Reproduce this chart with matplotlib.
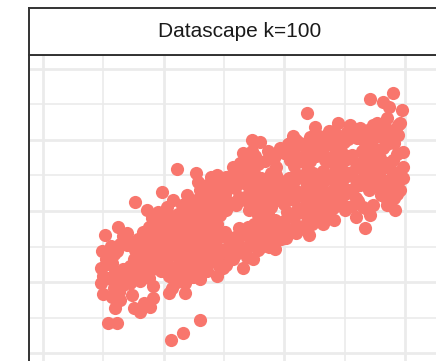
import matplotlib
matplotlib.use("Agg")
import matplotlib.pyplot as plt
import numpy as np
from matplotlib.ticker import MultipleLocator

plt.rcParams['font.family'] = ['Liberation Sans', 'DejaVu Sans']

panel_title = "Datascape k=100"
point_color = "#F8766D"

# observations, grouped by region of the cloud (left tail, middle, right / upper arm, dense core)
left_x = [
    5.1, 4.9, 5.2, 4.8, 5.0, 4.8, 5.0,
    5.6, 5.9, 5.7, 6.0, 5.6, 5.9, 5.7, 5.4,
    6.2, 6.6, 6.4, 6.1, 6.6, 6.3, 6.6, 6.3, 6.4, 6.0, 6.1,
    7.0, 7.4, 7.6, 7.5, 7.2, 7.5, 7.2, 7.4, 7.5,
    8.3, 7.9, 8.1, 8.3, 8.0, 8.2, 8.0, 8.4, 8.0, 7.6, 8.6,
    9.0, 8.8, 9.1, 8.9, 9.1, 8.8, 9.0, 8.8, 9.1, 9.1, 8.9,
    9.9, 9.5, 9.8, 9.6, 9.9, 9.6, 9.8, 9.5, 9.8,
    10.8, 10.3, 10.6, 10.4, 10.7, 10.4, 10.6, 10.3, 10.6, 10.4, 10.7, 10.4,
    10.6, 11.6, 13.0,
]
left_y = [
    16.6, 14.3, 13.2, 12.0, 10.9, 9.9, 8.3,
    15.1, 13.9, 12.7, 11.6, 10.4, 9.2, 7.9, 4.2,
    17.7, 16.5, 15.4, 14.3, 11.8, 10.6, 9.6, 8.6, 7.4, 6.3, 4.2,
    16.9, 15.7, 14.5, 13.3, 12.2, 11.0, 9.8, 8.2, 6.3,
    17.0, 16.0, 14.9, 13.7, 12.5, 11.3, 10.1, 7.0, 5.8, 21.3, 20.1,
    19.0, 17.8, 16.6, 15.4, 14.2, 13.0, 11.8, 10.6, 9.4, 7.7, 6.5,
    22.7, 19.8, 18.7, 17.5, 16.3, 15.1, 13.9, 12.7, 11.5,
    21.5, 20.5, 19.3, 18.1, 16.9, 15.7, 14.5, 13.3, 12.1, 10.9, 9.2, 8.5,
    1.8, 2.8, 4.6,
]

mid_x = [
    11.1, 11.5, 11.2, 11.4, 11.1, 11.4, 11.2, 11.5, 11.2, 11.4, 11.1,
    11.9, 12.2, 11.9, 12.2, 12.0, 12.3, 12.0, 12.2, 11.9, 12.2, 11.8, 11.8,
    12.7, 12.8, 13.0, 12.8, 13.1, 12.9, 13.1, 12.8, 13.0, 12.8, 13.1, 12.9, 12.4, 13.0,
    13.9, 13.6, 13.8, 13.5, 13.8, 13.6, 13.9, 13.6, 13.8, 13.5, 13.8, 13.6,
    14.4, 14.6, 14.3, 14.6, 14.4, 14.7, 14.4, 14.6, 14.3, 14.6, 14.4, 14.6, 14.4,
    15.7, 15.2, 15.4, 15.1, 15.4, 15.2, 15.1, 15.4, 15.2, 15.5, 15.2,
    16.6, 16.3, 16.0, 16.2, 15.9, 16.2, 16.0, 16.2, 15.9, 16.2, 16.0, 16.6,
    17.3, 17.0, 16.8, 17.1, 16.8, 17.1, 16.9, 17.1, 17.0, 16.8, 17.0, 16.9, 17.4,
    18.0, 17.6, 17.8, 17.5, 17.8, 17.6, 17.9, 17.6, 17.8, 17.5, 17.8, 17.6, 17.8,
    18.6, 18.4, 18.6, 18.3, 18.6, 18.4, 18.6, 18.3, 18.6, 18.4, 18.7,
    19.6, 19.1, 19.3, 19.3, 19.5, 19.2, 19.5, 19.2, 19.5, 19.4, 19.2,
    20.7, 20.3, 20.0, 20.4, 20.1, 20.3, 20.0, 20.2, 20.0, 20.3, 20.1,
]
mid_y = [
    25.9, 20.8, 19.6, 18.4, 17.2, 16.0, 14.8, 13.6, 12.4, 11.2, 10.0,
    22.3, 21.2, 20.0, 18.8, 17.6, 16.4, 15.2, 14.0, 12.8, 11.6, 9.9, 8.5,
    25.4, 24.1, 22.9, 21.7, 20.5, 19.3, 18.1, 16.9, 15.7, 14.5, 13.3, 12.1, 10.7, 10.4,
    24.8, 23.6, 22.4, 21.2, 20.0, 18.8, 17.6, 16.4, 15.2, 14.0, 12.8, 11.6,
    25.0, 24.2, 23.0, 21.8, 20.6, 19.4, 18.2, 17.0, 15.8, 14.6, 13.4, 12.2, 10.8,
    26.2, 24.8, 23.6, 22.4, 21.2, 20.2, 17.0, 15.8, 14.6, 13.4, 12.4,
    28.2, 26.8, 25.6, 24.4, 23.2, 22.0, 20.9, 17.6, 16.4, 15.2, 14.0, 12.0,
    30.0, 27.4, 26.2, 25.0, 23.8, 22.6, 21.4, 20.2, 17.8, 16.6, 14.9, 13.5, 13.2,
    29.7, 27.7, 26.6, 25.4, 24.2, 23.0, 21.8, 20.6, 19.4, 18.2, 17.0, 15.8, 14.5,
    28.4, 27.1, 24.6, 23.4, 22.2, 21.0, 19.8, 18.6, 17.4, 16.2, 15.0,
    28.9, 27.5, 26.2, 25.1, 23.9, 22.7, 21.5, 18.8, 17.6, 16.3, 14.6,
    30.6, 29.4, 28.2, 24.6, 23.4, 22.2, 21.0, 19.8, 18.6, 17.4, 16.2,
]

right_x = [
    21.0, 20.8, 21.1, 20.8, 21.0, 20.7, 21.0, 20.8, 21.1, 20.8, 21.0, 21.0,
    21.9, 21.5, 21.8, 21.6, 21.9, 21.6, 21.8, 21.5, 21.8, 21.6, 21.9, 21.6, 22.0,
    22.5, 22.7, 22.4, 22.6, 22.4, 22.6, 22.3, 22.6, 22.4, 22.6, 22.3,
    23.2, 23.4, 23.1, 23.4, 23.2, 23.4, 23.1, 23.4, 23.2, 23.4, 23.2,
    24.4, 24.1, 24.0, 24.2, 23.9, 24.2, 24.0, 24.2, 23.9, 24.2, 24.0, 24.1,
    25.4, 25.2, 24.9, 24.7, 25.0, 24.7, 25.0, 24.8, 25.0, 24.7, 25.0,
    25.8, 26.0, 25.6, 25.9, 25.6, 25.9, 25.7, 25.9, 25.6, 25.9,
    26.3, 26.5, 26.7, 26.4, 26.6, 26.4, 26.6, 26.3, 26.5, 26.7,
    27.1, 27.3, 27.0, 27.3, 27.1, 27.4, 27.1, 27.3, 27.0, 27.3, 27.1,
    28.2, 28.7, 28.5, 28.0, 28.1, 28.2, 27.9, 28.2, 27.9, 28.2, 28.0, 28.5,
    29.0, 29.4, 28.9, 29.1, 29.0, 28.9, 29.1, 28.8, 29.1, 29.2,
    29.7, 29.6, 29.4, 29.8, 29.8, 29.8, 29.6,
]
right_y = [
    30.0, 28.8, 27.6, 26.4, 25.2, 24.0, 22.8, 21.6, 20.4, 19.2, 18.0, 16.9,
    33.8, 29.3, 28.1, 26.9, 25.7, 24.5, 23.3, 22.1, 20.9, 19.7, 18.5, 17.4, 16.6,
    31.8, 30.2, 29.0, 27.8, 25.4, 24.2, 23.0, 21.8, 20.6, 19.4, 18.2,
    30.4, 29.6, 28.4, 27.2, 25.6, 24.4, 23.2, 22.0, 20.8, 19.6, 18.2,
    32.4, 31.2, 30.0, 28.8, 27.6, 26.4, 25.2, 24.0, 22.8, 21.6, 20.4, 18.8,
    32.1, 31.1, 29.7, 28.4, 27.2, 26.0, 24.8, 23.6, 22.4, 21.2, 20.1,
    31.6, 30.3, 27.9, 26.7, 25.5, 24.3, 23.1, 21.9, 20.7, 19.2,
    31.7, 30.8, 29.6, 28.4, 27.2, 26.0, 24.8, 23.6, 20.6, 17.6,
    35.8, 32.1, 30.3, 29.0, 27.8, 26.5, 25.3, 24.0, 22.9, 20.8, 19.4,
    35.4, 34.6, 33.1, 31.8, 30.4, 28.9, 27.4, 26.1, 24.8, 23.5, 22.2, 20.8,
    36.6, 32.1, 31.0, 29.6, 27.2, 25.6, 24.3, 23.0, 21.8, 20.1,
    34.2, 32.4, 30.7, 28.3, 26.2, 24.6, 23.0,
]

core_x = [
    5.4, 5.4,
    6.2, 6.2,
    7.0, 7.0,
    7.8, 7.8, 7.8,
    8.5, 8.5, 8.5,
    9.3, 9.3, 9.3,
    10.1, 10.1, 10.1, 10.1,
    10.9, 10.9, 10.9, 10.9,
    11.7, 11.7, 11.7, 11.7,
    12.5, 12.5, 12.5, 12.5,
    13.3, 13.3, 13.3, 13.3, 13.3,
    14.1, 14.1, 14.1, 14.1, 14.1,
    14.9, 14.9, 14.9, 14.9, 14.9,
    15.7, 15.7, 15.7, 15.7, 15.7,
    16.5, 16.5, 16.5, 16.5, 16.5,
    17.3, 17.3, 17.3, 17.3, 17.3, 17.3,
    18.1, 18.1, 18.1, 18.1, 18.1,
    18.9, 18.9, 18.9, 18.9, 18.9, 18.9,
    19.7, 19.7, 19.7, 19.7,
    20.5, 20.5, 20.5, 20.5, 20.5, 20.5,
    21.3, 21.3, 21.3, 21.3, 21.3, 21.3,
    22.1, 22.1, 22.1, 22.1, 22.1,
    22.9, 22.9, 22.9, 22.9, 22.9,
    23.7, 23.7, 23.7, 23.7, 23.7, 23.7,
    24.5, 24.5, 24.5, 24.5, 24.5,
    25.3, 25.3, 25.3, 25.3, 25.3,
    26.1, 26.1, 26.1, 26.1,
    26.9, 26.9, 26.9, 26.9, 26.9,
    27.7, 27.7, 27.7, 27.7, 27.7,
    28.5, 28.5, 28.5, 28.5, 28.5,
    29.3, 29.3, 29.3,
]
core_y = [
    10.5, 12.5,
    11.2, 9.0,
    10.4, 15.2,
    11.9, 13.1, 15.5,
    12.0, 14.3, 16.2,
    13.4, 15.8, 18.2,
    12.6, 15.0, 17.4, 19.6,
    11.6, 14.0, 16.4, 18.8,
    12.0, 14.4, 16.8, 19.2,
    13.0, 15.4, 17.8, 20.2,
    12.4, 14.8, 17.2, 19.6, 22.0,
    13.6, 16.0, 18.4, 20.8, 23.2,
    12.0, 14.4, 16.8, 21.4, 23.8,
    13.2, 15.6, 21.0, 23.4, 25.0,
    14.4, 16.8, 21.8, 24.2, 26.0,
    15.2, 17.4, 21.2, 23.6, 26.0, 28.4,
    15.0, 17.4, 19.8, 22.2, 24.6,
    15.8, 18.2, 20.6, 23.0, 25.4, 27.8,
    16.0, 18.2, 22.8, 24.2,
    17.0, 19.4, 21.8, 24.2, 27.2, 29.6,
    17.6, 20.0, 22.4, 24.8, 27.2, 29.6,
    18.8, 21.2, 23.6, 27.0, 30.4,
    19.4, 21.8, 24.0, 28.4, 30.6,
    19.6, 22.0, 24.6, 27.0, 29.4, 31.2,
    20.8, 23.2, 25.6, 28.0, 30.6,
    20.6, 23.0, 25.4, 27.8, 30.2,
    21.4, 23.8, 26.2, 31.0,
    20.2, 24.2, 26.6, 29.0, 31.4,
    23.4, 25.8, 28.2, 30.6, 32.4,
    21.6, 24.2, 26.8, 29.4, 31.6,
    22.4, 25.0, 28.0,
]

x = np.array(left_x + mid_x + right_x + core_x)
y = np.array(left_y + mid_y + right_y + core_y)

W, H = 436, 361
fig = plt.figure(figsize=(W / 100, H / 100), dpi=100)
fig.patch.set_facecolor("white")

# panel and strip geometry (figure pixels); the panel runs past the right and bottom edges
p_left, p_right, p_top, p_bottom = 28.5, 451.5, 55.0, 380.0
s_top = 7.5
frame = "#333333"

ax = fig.add_axes([p_left / W, 1 - p_bottom / H, (p_right - p_left) / W, (p_bottom - p_top) / H])
ax.set_xlim(-1.20, 33.84)
ax.set_ylim(-3.80, 41.97)
ax.xaxis.set_major_locator(MultipleLocator(10))
ax.xaxis.set_minor_locator(MultipleLocator(5))
ax.yaxis.set_major_locator(MultipleLocator(10))
ax.yaxis.set_minor_locator(MultipleLocator(5))
ax.tick_params(which="both", length=0, labelbottom=False, labelleft=False)
ax.grid(which="major", color="#EBEBEB", linewidth=2.0)
ax.grid(which="minor", color="#EBEBEB", linewidth=1.2)
ax.set_axisbelow(True)
for side in ax.spines.values():
    side.set_color(frame)
    side.set_linewidth(1.4)

ax.scatter(x, y, s=90, c=point_color, linewidths=0, zorder=3)

# facet strip
sax = fig.add_axes([p_left / W, 1 - p_top / H, (p_right - p_left) / W, (p_top - s_top) / H])
sax.set_facecolor("white")
sax.set_xticks([])
sax.set_yticks([])
for side in sax.spines.values():
    side.set_color(frame)
    side.set_linewidth(1.4)
sax.text(0.5, 0.5, panel_title, ha="center", va="center", fontsize=15,
         color="#1A1A1A", transform=sax.transAxes)

fig.savefig("out.png", dpi=100)
